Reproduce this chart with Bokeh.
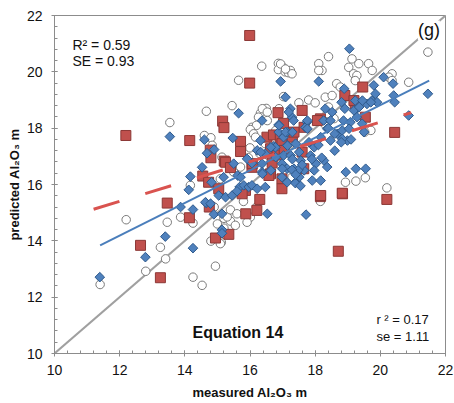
from bokeh.plotting import figure
from bokeh.models import SingleIntervalTicker, Label, Range1d
from bokeh.embed import file_html
from bokeh.resources import INLINE
import math

# ---- data ----
circle_x = [11.4, 12.2, 12.8, 13.25, 13.41, 13.46, 13.54, 13.87, 14.17, 14.25, 14.25, 14.53, 14.94, 14.8,
            15.12, 15.09, 15.2, 14.66, 14.6, 14.8, 14.84, 15.14, 15.45, 15.65, 16.36, 16.87, 17.02, 16.87,
            17.08, 17.18, 16.94, 17.03, 16.32, 16.5, 16.26, 16.06, 16.2, 16.01, 16.11, 16.47, 15.09, 15.5,
            15.71, 16.01, 15.91, 15.0, 15.2, 15.4, 15.55, 15.3, 18.41, 18.11, 18.21, 18.11, 19.13, 19.03,
            19.34, 19.64, 19.75, 19.18, 19.28, 19.23, 20.36, 20.26, 20.36, 20.87, 21.46, 18.66, 18.77,
            17.24, 17.29, 17.09, 18.31, 18.41, 18.52, 16.38, 16.53, 16.89, 16.17, 16.53, 16.79, 18.37,
            18.27, 18.58, 19.71, 19.52, 18.93, 19.25, 19.54, 20.2, 18.16, 17.29, 16.0, 16.3, 16.6, 15.95,
            17.8, 17.5, 18.0, 14.9, 15.4, 16.2, 15.6, 15.8]
circle_y = [12.45, 14.75, 12.92, 13.77, 13.36, 14.66, 18.2, 14.84, 15.97, 14.63, 12.71, 12.42, 13.1, 13.99,
            13.95, 13.9, 14.8, 18.6, 17.74, 17.66, 17.39, 16.97, 18.8, 19.7, 20.2, 20.3, 20.15, 20.08,
            20.0, 19.97, 20.28, 19.12, 18.53, 18.7, 18.39, 18.03, 18.1, 17.95, 17.8, 17.45, 16.2, 16.44,
            16.62, 14.84, 14.66, 14.6, 14.45, 14.7, 14.55, 14.85, 20.54, 20.29, 20.05, 20.05, 20.46, 20.16,
            20.29, 20.29, 20.05, 19.93, 19.87, 19.69, 19.93, 19.81, 19.69, 19.63, 20.7, 19.58, 19.46,
            20.05, 19.93, 20.1, 19.1, 18.75, 19.16, 18.69, 18.57, 18.69, 17.68, 18.27, 17.92, 18.52,
            18.17, 18.34, 17.92, 17.86, 16.08, 16.12, 16.24, 15.88, 15.4, 16.26, 17.3, 17.1, 17.0, 16.95,
            19.0, 18.9, 18.9, 15.2, 15.1, 15.2, 14.96, 15.4]

square_x = [12.19, 12.64, 13.25, 13.46, 14.15, 14.14, 14.78, 14.8, 15.21, 14.55, 14.73, 14.75, 14.94,
            15.35, 15.16, 15.2, 15.99, 15.99, 16.86, 17.03, 15.71, 15.71, 16.52, 16.72, 16.93, 16.63,
            16.98, 15.25, 15.04, 15.86, 15.76, 16.3, 15.87, 16.21, 16.06, 16.68, 16.83, 16.63, 16.98,
            16.98, 20.44, 20.2, 18.84, 18.16, 18.71, 17.65, 19.46, 18.91, 19.23, 19.54, 17.6, 18.16,
            17.6, 17.3, 17.66, 17.05, 17.35, 18.07, 19.19, 16.58, 16.07, 15.4, 18.17, 18.83]
square_y = [17.74, 13.84, 12.69, 15.34, 17.56, 14.82, 17.22, 16.95, 16.83, 16.3, 16.08, 15.2, 14.1,
            14.23, 18.25, 18.02, 21.29, 19.6, 18.55, 18.17, 17.53, 17.17, 17.68, 17.76, 17.62, 17.27,
            17.45, 16.79, 15.85, 15.79, 15.67, 15.47, 14.96, 15.08, 16.61, 16.77, 17.05, 16.38, 16.2,
            15.85, 17.85, 15.47, 15.67, 15.57, 13.63, 16.56, 19.46, 19.16, 18.86, 18.39, 18.63, 18.33,
            17.15, 17.68, 18.03, 17.21, 17.86, 18.27, 18.98, 16.32, 16.74, 16.6, 15.61, 15.69]

diamond_x = [11.39, 12.79, 13.4, 13.54, 13.87, 14.25, 14.25, 14.12, 14.17, 14.53, 14.6, 14.68, 14.9,
             14.66, 14.89, 15.14, 15.14, 15.14, 14.63, 14.79, 14.82, 15.19, 15.04, 15.25, 15.45, 15.65,
             15.47, 15.5, 15.62, 15.68, 15.81, 15.96, 16.06, 16.22, 15.6, 16.47, 16.53, 16.06, 15.91,
             16.37, 16.47, 16.37, 16.73, 17.03, 17.14, 16.98, 17.14, 16.98, 17.14, 16.32, 16.22, 16.88,
             17.14, 16.78, 17.03, 16.37, 16.88, 16.94, 19.05, 18.11, 20.1, 20.39, 19.8, 19.85, 20.41,
             20.44, 21.46, 20.87, 18.81, 18.91, 19.23, 19.28, 19.59, 19.74, 17.24, 17.29, 18.31, 18.52,
             18.26, 18.47, 17.75, 17.7, 18.87, 19.08, 19.28, 19.44, 19.9, 17.09, 17.19, 17.34, 16.89,
             17.09, 17.3, 17.76, 17.76, 16.33, 16.64, 16.79, 17.15, 17.25, 17.51, 17.56, 17.86, 17.97,
             18.02, 18.17, 18.37, 18.47, 18.68, 18.83, 18.99, 19.04, 19.19, 19.35, 19.45, 19.71, 18.89,
             19.5, 18.83, 17.66, 17.97, 17.35, 17.51, 17.91, 18.17, 18.27, 18.37, 17.81, 17.4, 16.99,
             16.64, 16.38, 15.71, 17.4, 18.94, 19.25, 19.55, 17.39, 17.49, 17.29, 17.72, 17.3, 17.6,
             17.9, 18.2, 17.4, 17.55, 18.1, 18.6, 18.4, 18.6, 18.8, 19.1]
diamond_y = [12.71, 13.42, 14.15, 17.7, 15.2, 15.11, 13.74, 15.81, 16.28, 16.61, 17.59, 17.11, 17.24,
             15.34, 14.94, 14.39, 14.27, 14.96, 15.37, 15.32, 16.08, 16.26, 15.61, 15.55, 15.61, 18.53,
             17.65, 16.74, 16.32, 15.91, 15.97, 15.91, 15.97, 15.85, 15.76, 15.91, 14.96, 16.76, 16.91,
             16.74, 17.09, 16.44, 17.36, 17.68, 17.39, 16.74, 16.56, 16.26, 16.08, 17.56, 17.21, 17.86,
             17.86, 17.32, 17.03, 18.27, 18.12, 19.66, 20.82, 19.66, 19.81, 19.58, 19.52, 19.22, 19.16,
             18.92, 19.22, 18.45, 18.92, 18.69, 18.98, 18.69, 18.86, 18.98, 18.69, 18.39, 18.69, 18.57,
             18.27, 18.27, 18.21, 18.03, 18.27, 18.21, 18.39, 18.16, 18.92, 19.1, 18.57, 18.27, 18.1,
             17.86, 17.86, 18.27, 17.98, 17.15, 17.32, 16.97, 17.38, 17.03, 17.15, 16.85, 17.03, 17.32,
             16.74, 17.68, 17.98, 17.56, 17.8, 17.92, 17.56, 17.98, 18.63, 18.75, 18.98, 18.92, 19.4,
             17.86, 17.62, 16.5, 16.5, 16.56, 16.26, 16.14, 16.14, 16.85, 16.62, 17.5, 17.45, 16.56,
             16.5, 16.38, 16.26, 16.08, 16.44, 16.56, 16.56, 16.05, 16.52, 16.52, 14.93, 16.9, 16.7,
             16.9, 16.95, 16.35, 15.95, 17.4, 17.2, 18.0, 17.8, 17.5, 17.6]

one_to_one = [10, 22]
blue_fit_x = [11.4, 21.5]
blue_fit_y = [13.84, 19.69]
red_fit_x = [11.2, 20.95]
red_fit_y = [15.12, 18.55]

ticks_major = 2
font = "Liberation Sans"
axis_gray = "#8c8c8c"

p = figure(width=454, height=403, output_backend="svg", toolbar_location=None,
           x_range=Range1d(10, 22), y_range=Range1d(10, 22),
           min_border_left=54, min_border_right=9, min_border_top=15, min_border_bottom=50)
p.xgrid.visible = False
p.ygrid.visible = False
p.outline_line_color = axis_gray
p.outline_line_width = 1
p.background_fill_color = "white"
p.border_fill_color = "white"

for ax in (p.xaxis[0], p.yaxis[0]):
    ax.ticker = SingleIntervalTicker(interval=ticks_major, num_minor_ticks=5)
    ax.axis_line_color = axis_gray
    ax.major_tick_line_color = axis_gray
    ax.minor_tick_line_color = axis_gray
    ax.major_tick_in = 3
    ax.major_tick_out = 3
    ax.minor_tick_in = 3
    ax.minor_tick_out = 0
    ax.major_label_text_font = font
    ax.major_label_text_font_size = "14px"
    ax.major_label_text_color = "#111111"
    ax.axis_label_text_font = font
    ax.axis_label_text_font_size = "13px"
    ax.axis_label_text_font_style = "bold"
    ax.axis_label_text_color = "#111111"

p.xaxis.axis_label = "measured Al₂O₃ m"
p.yaxis.axis_label = "predicted Al₂O₃ m"
p.xaxis.major_label_standoff = 8
p.yaxis.major_label_standoff = 9
p.xaxis.axis_label_standoff = 7
p.yaxis.axis_label_standoff = 2

# lines
p.line(one_to_one, one_to_one, line_color="#a0a0a0", line_width=2)

# markers
p.scatter(circle_x, circle_y, marker="circle", size=8.5, fill_color="white",
          line_color="#7a7a7a", line_width=1)
p.scatter(square_x, square_y, marker="square", size=10, fill_color="#C0504D",
          line_color="#8C3836", line_width=1)
p.scatter(diamond_x, diamond_y, marker="square", size=6.8, angle=math.pi / 4,
          fill_color="#4F81BD", line_color="#2F5A8C", line_width=1)

p.line(blue_fit_x, blue_fit_y, line_color="#4A7EBB", line_width=2)
p.line(red_fit_x, red_fit_y, line_color="#D9534F", line_width=3, line_dash="27 27")

# annotations
p.add_layout(Label(x=10.55, y=20.97, text="R² = 0.59", text_font=font, text_font_size="14px",
                   text_baseline="middle", text_color="#111111"))
p.add_layout(Label(x=10.55, y=20.38, text="SE = 0.93", text_font=font, text_font_size="14px",
                   text_baseline="middle", text_color="#111111"))
p.add_layout(Label(x=21.49, y=21.47, text="(g)", text_font=font, text_font_size="18px",
                   text_align="center", text_baseline="middle", text_color="#111111",
                   background_fill_color="white"))
p.add_layout(Label(x=15.63, y=10.75, text="Equation 14", text_font=font, text_font_size="16px",
                   text_font_style="bold", text_align="center", text_baseline="middle",
                   text_color="#111111"))
p.add_layout(Label(x=19.88, y=11.21, text="r ² = 0.17", text_font=font, text_font_size="13px",
                   text_baseline="middle", text_color="#111111"))
p.add_layout(Label(x=19.88, y=10.62, text="se = 1.11", text_font=font, text_font_size="13px",
                   text_baseline="middle", text_color="#111111"))

open("out.html", "w").write(file_html(p, INLINE))
